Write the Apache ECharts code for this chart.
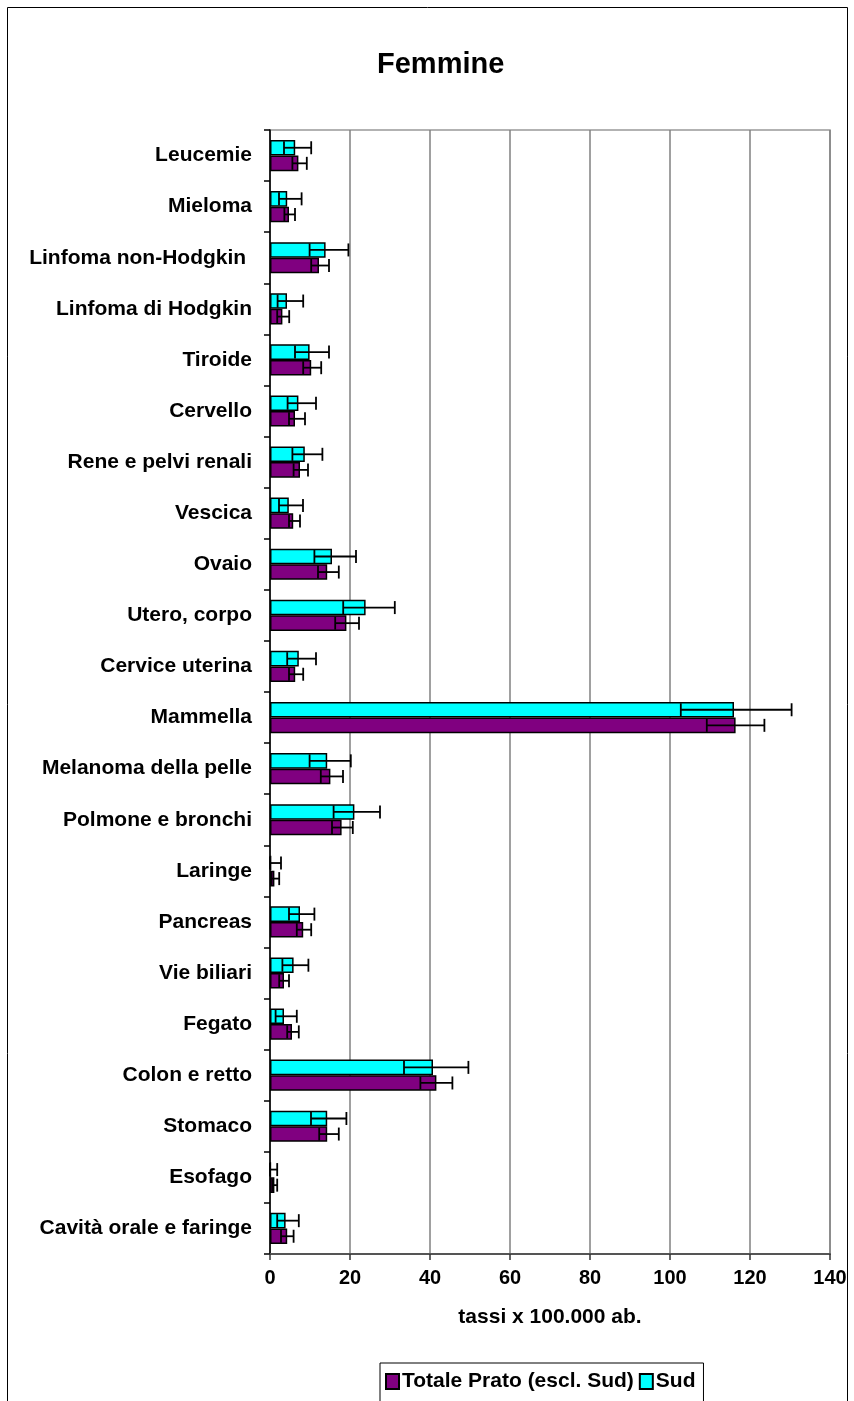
<!DOCTYPE html>
<html>
<head>
<meta charset="utf-8">
<script src="https://cdn.jsdelivr.net/npm/echarts@6/dist/echarts.min.js"></script>
<style>
html,body{margin:0;padding:0;background:#fff;}
#chart{width:854px;height:1401px;}
</style>
</head>
<body>
<div id="chart"></div>
<script>
// Categories, bottom to top
var categories = ["Cavità orale e faringe","Esofago","Stomaco","Colon e retto","Fegato","Vie biliari","Pancreas","Laringe","Polmone e bronchi","Melanoma della pelle","Mammella","Cervice uterina","Utero, corpo","Ovaio","Vescica","Rene e pelvi renali","Cervello","Tiroide","Linfoma di Hodgkin","Linfoma non-Hodgkin ","Mieloma","Leucemie"];

var pratoValues = [4.3,1.1,14.3,41.6,5.5,3.5,8.3,1.1,17.9,15.1,116.4,6.3,19.1,14.3,5.8,7.5,6.25,10.3,3.1,12.25,4.75,7.1];
var pratoLow    = [2.75,0.6,12.3,37.6,4.3,2.3,6.7,0.4,15.5,12.7,109.2,4.75,16.3,12.0,4.75,5.9,4.75,8.3,1.8,10.3,3.6,5.6];
var pratoHigh   = [5.9,1.8,17.2,45.6,7.2,4.75,10.3,2.3,20.7,18.25,123.6,8.3,22.25,17.2,7.5,9.5,8.75,12.8,4.8,14.75,6.25,9.2];

var sudValues = [3.9,0.2,14.3,40.75,3.5,5.9,7.5,0.3,21.1,14.3,116.0,7.2,23.9,15.5,4.7,8.7,7.1,9.9,4.25,13.9,4.3,6.3];
var sudLow    = [1.8,0,10.25,33.5,1.4,3.1,4.75,0,15.9,9.9,102.7,4.3,18.3,11.1,2.25,5.6,4.4,6.25,1.9,9.9,2.25,3.5];
var sudHigh   = [7.2,1.8,19.1,49.6,6.7,9.6,11.1,2.75,27.5,20.2,130.4,11.5,31.2,21.5,8.25,13.1,11.5,14.75,8.3,19.6,7.9,10.3];

var xTicks = [0,20,40,60,80,100,120,140];

var FONT = '"Liberation Sans", Arial, sans-serif';
var CAT_GAP = 0.39;

function errData(lo, hi) {
  return lo.map(function (l, i) { return [l, hi[i], i]; });
}
function errRender(sign) {
  return function (params, api) {
    var cat = api.value(2);
    var p1 = api.coord([api.value(0), cat]);
    var p2 = api.coord([api.value(1), cat]);
    var band = api.size([0, 1])[1];
    var barW = band * (1 - CAT_GAP) / 2;
    var y = p1[1] + sign * barW / 2;
    var h = 6.5;
    var st = { stroke: '#000', lineWidth: 1.8 };
    return {
      type: 'group',
      children: [
        { type: 'line', shape: { x1: p1[0], y1: y, x2: p2[0], y2: y }, style: st },
        { type: 'line', shape: { x1: p1[0], y1: y - h, x2: p1[0], y2: y + h }, style: st },
        { type: 'line', shape: { x1: p2[0], y1: y - h, x2: p2[0], y2: y + h }, style: st }
      ]
    };
  };
}

var chart = echarts.init(document.getElementById('chart'), null, { renderer: 'canvas' });
chart.setOption({
  backgroundColor: '#fff',
  animation: false,
  textStyle: { fontFamily: FONT },
  title: {
    text: 'Femmine',
    left: 372, top: 45,
    textStyle: { fontFamily: FONT, fontSize: 29, fontWeight: 'bold', color: '#000' }
  },
  graphic: [{
    type: 'rect', silent: true, z: -1,
    shape: { x: 7.5, y: 7.5, width: 840, height: 1420 },
    style: { fill: 'none', stroke: '#000', lineWidth: 1 }
  }],
  legend: {
    data: ['Totale Prato (escl. Sud)', 'Sud'],
    left: 380, top: 1363,
    padding: [8, 8, 12, 5],
    itemGap: 5,
    itemWidth: 13, itemHeight: 15,
    icon: 'rect',
    borderColor: '#000', borderWidth: 1,
    textStyle: { fontFamily: FONT, fontSize: 21, fontWeight: 'bold', color: '#000', padding: [0, 0, 0, -2] }
  },
  grid: {
    left: 270, right: 24, top: 130, bottom: 147,
    show: true, borderColor: '#999', borderWidth: 1.5, backgroundColor: '#fff'
  },
  xAxis: {
    type: 'value', min: 0, max: 140, interval: 20,
    name: 'tassi x 100.000 ab.', nameLocation: 'middle', nameGap: 53,
    nameTextStyle: { fontFamily: FONT, fontSize: 21, fontWeight: 'bold', color: '#000' },
    axisLine: { show: true, lineStyle: { color: '#555', width: 2 } },
    axisTick: { show: true, length: 6, lineStyle: { color: '#333', width: 1.5 } },
    splitLine: { show: true, lineStyle: { color: '#808080', width: 1.5 } },
    axisLabel: {
      fontFamily: FONT, fontSize: 20, fontWeight: 'bold', color: '#000', margin: 14,
      formatter: function (v) { return xTicks.indexOf(v) >= 0 ? String(v) : ''; }
    }
  },
  yAxis: {
    type: 'category', data: categories,
    axisLine: { show: true, lineStyle: { color: '#000', width: 1.5 } },
    axisTick: { show: true, length: 6, lineStyle: { color: '#000', width: 1.5 } },
    axisLabel: { fontFamily: FONT, fontSize: 21, fontWeight: 'bold', color: '#000', margin: 18 }
  },
  series: [
    {
      name: 'Sud', type: 'bar', data: sudValues,
      barGap: '0%', barCategoryGap: (CAT_GAP * 100) + '%',
      itemStyle: { color: '#00FFFF', borderColor: '#000', borderWidth: 1.5 }
    },
    {
      name: 'Totale Prato (escl. Sud)', type: 'bar', data: pratoValues,
      barGap: '0%', barCategoryGap: (CAT_GAP * 100) + '%',
      itemStyle: { color: '#800080', borderColor: '#000', borderWidth: 1.5 }
    },
    {
      name: 'errSud', type: 'custom', renderItem: errRender(-1),
      data: errData(sudLow, sudHigh), encode: { x: [0, 1], y: 2 }, z: 5, silent: true
    },
    {
      name: 'errPrato', type: 'custom', renderItem: errRender(1),
      data: errData(pratoLow, pratoHigh), encode: { x: [0, 1], y: 2 }, z: 5, silent: true
    }
  ]
});
</script>
</body>
</html>
